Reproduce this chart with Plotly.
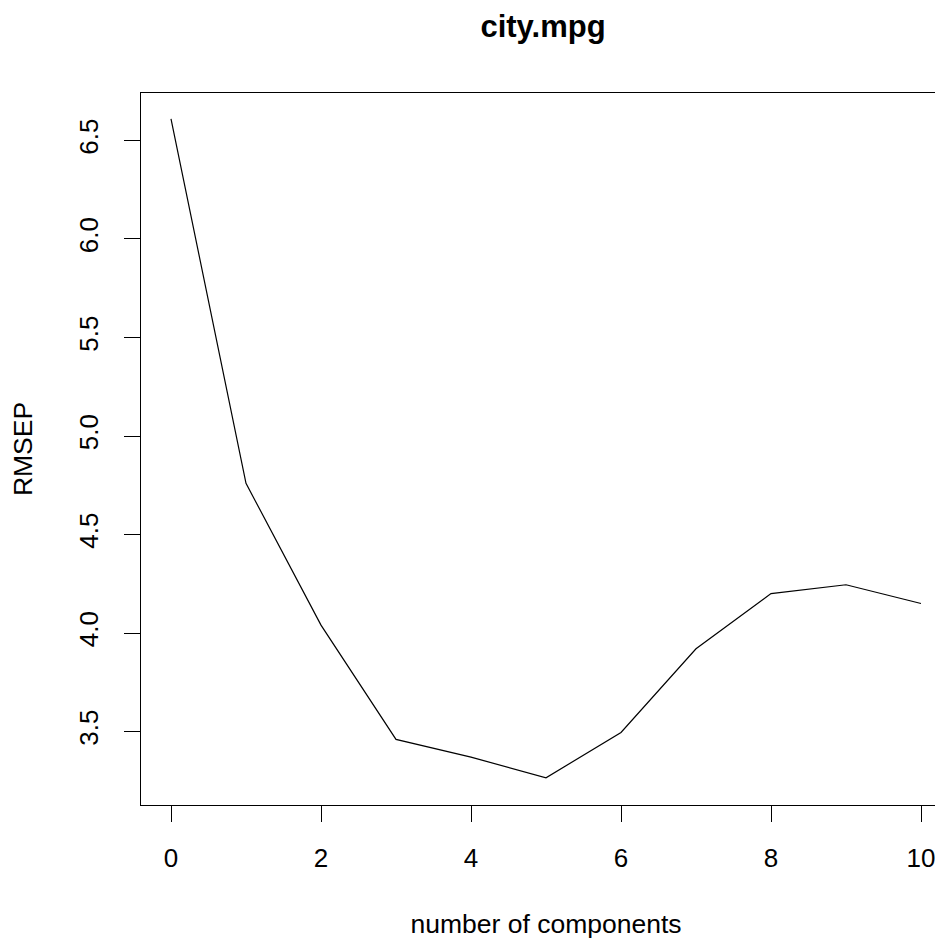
import plotly.graph_objects as go

components = [0, 1, 2, 3, 4, 5, 6, 7, 8, 9, 10]
rmsep = [6.61, 4.76, 4.04, 3.46, 3.37, 3.265, 3.495, 3.92, 4.20, 4.245, 4.15]
x_ticks = [0, 2, 4, 6, 8, 10]
y_ticks = [3.5, 4.0, 4.5, 5.0, 5.5, 6.0, 6.5]
y_tick_labels = ["3.5", "4.0", "4.5", "5.0", "5.5", "6.0", "6.5"]

font = "Liberation Sans, Arial, sans-serif"

fig = go.Figure()
fig.add_trace(go.Scatter(x=components, y=rmsep, mode="lines",
                         line=dict(color="black", width=1.2),
                         showlegend=False, hoverinfo="x+y"))

fig.update_layout(
    width=943, height=941,
    margin=dict(l=133, r=0, t=85, b=144),
    paper_bgcolor="white", plot_bgcolor="white",
    font=dict(family=font, size=26, color="black"),
    title=dict(text="<b>city.mpg</b>", x=535 / 943, xanchor="center",
               y=1 - 18 / 941, yanchor="middle",
               font=dict(family=font, size=31, color="black")),
)
fig.update_xaxes(
    range=[-0.4, 10.4], tickvals=x_ticks, ticktext=[str(v) for v in x_ticks],
    showgrid=False, zeroline=False,
    showline=True, linecolor="black", linewidth=1.2, mirror=True,
    ticks="outside", ticklen=16, tickwidth=1.2, tickcolor="black",
    ticklabelstandoff=14,
    tickfont=dict(family=font, size=26, color="black"),
    title=dict(text="number of components", standoff=42,
               font=dict(family=font, size=26.5, color="black")),
)
fig.update_yaxes(
    range=[3.127, 6.741], tickvals=y_ticks, ticktext=y_tick_labels,
    tickangle=-90,
    showgrid=False, zeroline=False,
    showline=True, linecolor="black", linewidth=1.2,
    ticks="outside", ticklen=16, tickwidth=1.2, tickcolor="black",
    ticklabelstandoff=16,
    tickfont=dict(family=font, size=26, color="black"),
    title=dict(text="RMSEP", standoff=41,
               font=dict(family=font, size=26.5, color="black")),
)

fig.write_html("out.html")
